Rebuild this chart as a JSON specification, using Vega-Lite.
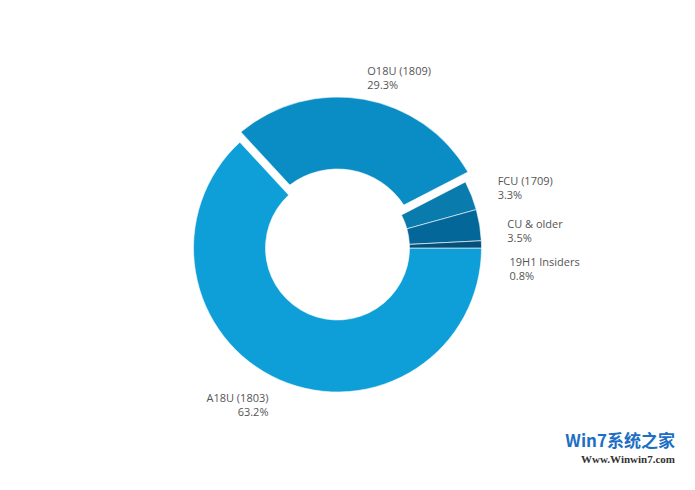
{
  "$schema": "https://vega.github.io/schema/vega-lite/v6.json",
  "width": 675,
  "height": 496,
  "padding": 0,
  "autosize": "none",
  "background": "#ffffff",
  "view": {"stroke": null},
  "config": {"font": "Open Sans"},
  "title": {
    "text": "Win7系统之家",
    "subtitle": "Www.Winwin7.com",
    "orient": "bottom",
    "anchor": "end",
    "frame": "group",
    "offset": -62,
    "fontSize": 17,
    "fontWeight": "bold",
    "color": "#1c6fc4",
    "subtitleFontSize": 11,
    "subtitleColor": "#333333",
    "subtitleFontWeight": "bold",
    "font": "Noto Sans CJK SC",
    "subtitleFont": "Liberation Serif"
  },
  "data": {
    "values": [
      {"idx": 1, "name": "A18U (1803)", "share": 0.632},
      {"idx": 2, "name": "O18U (1809)", "share": 0.293},
      {"idx": 3, "name": "FCU (1709)", "share": 0.033},
      {"idx": 4, "name": "CU & older", "share": 0.035},
      {"idx": 5, "name": "19H1 Insiders", "share": 0.008}
    ]
  },
  "encoding": {
    "theta": {"field": "share", "type": "quantitative", "stack": true, "scale": {"range": [1.5708, 7.854]}},
    "order": {"field": "idx", "type": "quantitative"}
  },
  "layer": [
    {
      "mark": {
        "type": "arc",
        "stroke": "#ffffff",
        "strokeWidth": 0.6,
        "radius": {"expr": "datum.idx == 2 ? 151 : 144"},
        "radius2": {"expr": "datum.idx == 2 ? 79 : 72"},
        "padAngle": {"expr": "datum.idx == 2 ? 0.09 : 0"}
      },
      "encoding": {
        "color": {
          "field": "name",
          "type": "nominal",
          "legend": null,
          "scale": {
            "domain": ["A18U (1803)", "O18U (1809)", "FCU (1709)", "CU & older", "19H1 Insiders"],
            "range": ["#0e9fd8", "#0a8dc4", "#0a7bad", "#04679a", "#045079"]
          }
        }
      }
    },
    {
      "mark": {
        "type": "text",
        "radius": 172,
        "baseline": "bottom",
        "fontSize": 11,
        "color": "#555555",
        "align": {"expr": "datum.idx == 1 ? 'right' : 'left'"},
        "dy": {"expr": "datum.idx == 5 ? 24 : datum.idx == 4 ? 9 : datum.idx == 3 ? 2 : -2"}
      },
      "encoding": {"text": {"field": "name"}}
    },
    {
      "mark": {
        "type": "text",
        "radius": 172,
        "baseline": "top",
        "fontSize": 11,
        "color": "#555555",
        "align": {"expr": "datum.idx == 1 ? 'right' : 'left'"},
        "dy": {"expr": "datum.idx == 5 ? 27 : datum.idx == 4 ? 12 : datum.idx == 3 ? 5 : 1"}
      },
      "encoding": {"text": {"field": "share", "format": ".1%"}}
    }
  ]
}
